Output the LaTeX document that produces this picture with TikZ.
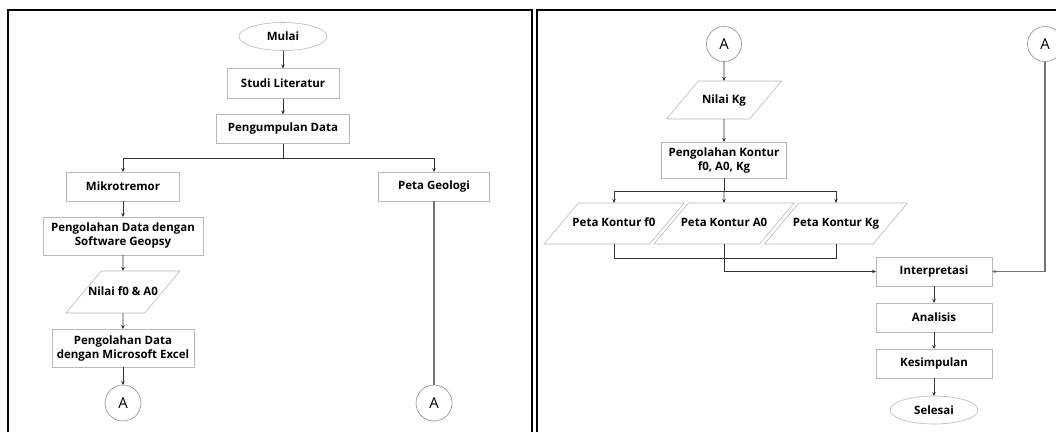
\documentclass[tikz,border=0pt]{standalone}
\usepackage{fontspec}
\setmainfont{Open Sans}
\usetikzlibrary{positioning,shapes.geometric,arrows.meta}

\begin{document}
\begin{tikzpicture}[x=1pt,y=-1pt,>={Stealth[length=4pt,width=3.5pt]},
    every node/.style={inner sep=0pt,outer sep=0pt,align=center,
      font=\bfseries\fontsize{11.5}{14}\selectfont},
    proses/.style={rectangle,draw=black!28,line width=0.6pt},
    data/.style={trapezium,trapezium left angle=50,trapezium right angle=130,
      trapezium stretches body,draw=black!28,line width=0.6pt,inner xsep=-20pt,
      text height=9pt,text depth=2.5pt,inner ysep=14.75pt},
    terminal/.style={ellipse,draw=black!28,line width=0.6pt,minimum width=88pt,minimum height=28pt},
    konektor/.style={circle,draw=black!45,line width=0.6pt,minimum size=35pt,
      font=\fontsize{15}{18}\selectfont},
    alur/.style={->,draw=black!80,line width=0.8pt},
    garis/.style={draw=black!55,line width=1.2pt},
    bingkai/.style={draw=black,line width=1.6pt}]
  \useasboundingbox (0,0) rectangle (1056,432);

  \draw[bingkai] (8,432) -- (8,10) -- (532,10) -- (532,432);
  \draw[bingkai] (537,432) -- (537,10) -- (1056,10);

  % panel kiri
  \node[terminal] (mulai) at (283,36.5) {Mulai};
  \node[proses,minimum width=112pt,minimum height=30pt] (studi) [below=18pt of mulai] {Studi Literatur};
  \node[proses,minimum width=133pt,minimum height=29pt] (kumpul) [below=16pt of studi] {Pengumpulan Data};
  \node[proses,minimum width=113pt,minimum height=29pt] (mikro) at (123,186.5) {Mikrotremor};
  \node[proses,minimum width=111pt,minimum height=29pt] (geologi) at (434,186.5) {Peta Geologi};
  \node[proses,minimum width=160pt,minimum height=38pt] (geopsy) [below=16pt of mikro] {Pengolahan Data dengan\\Software Geopsy};
  \node[data,minimum width=114pt,inner ysep=15.25pt] (nilaiFA) [below=16pt of geopsy] {Nilai f0 \& A0};
  \node[proses,minimum width=142pt,minimum height=38pt] (excel) [below=16pt of nilaiFA] {Pengolahan Data\\dengan Microsoft Excel};
  \node[konektor,minimum size=36pt] (aKiri1) [below=18pt of excel] {A};
  \node[konektor,minimum size=36pt] (aKiri2) at (434,403) {A};

  \path[alur] (mulai) edge (studi)
    (studi) edge (kumpul)
    (mikro) edge (geopsy)
    (geopsy) edge (nilaiFA)
    (nilaiFA) edge (excel)
    (excel) edge (aKiri1);
  \draw[alur,-] (kumpul.south) -- ++(0,15) coordinate (cabangKiri);
  \draw[alur] (cabangKiri) -| (mikro);
  \draw[alur] (cabangKiri) -| (geologi);
  \draw[garis] (geologi) -- (aKiri2);

  % panel kanan
  \node[konektor] (aKanan1) at (724,44) {A};
  \node[konektor] (aKanan2) at (1045,44) {A};
  \node[data,minimum width=115pt,inner ysep=13.25pt] (nilaiKg) [below=19.5pt of aKanan1] {Nilai Kg};
  \node[proses,minimum width=125pt,minimum height=36pt] (kontur) [below=23pt of nilaiKg] {Pengolahan Kontur\\f0, A0, Kg};
  \node[data,minimum width=140pt] (petaA) at (724,223.5) {Peta Kontur A0};
  \node[data,minimum width=140pt] (petaF) at (614,223.5) {Peta Kontur f0};
  \node[data,minimum width=143pt] (petaK) at (836,223.5) {Peta Kontur Kg};
  \node[proses,minimum width=116pt,minimum height=29pt] (interp) at (934,271.5) {Interpretasi};
  \node[proses,minimum width=116pt,minimum height=29pt] (analisis) [below=17pt of interp] {Analisis};
  \node[proses,minimum width=116pt,minimum height=29pt] (simpul) [below=17pt of analisis] {Kesimpulan};
  \node[terminal] (selesai) [below=18pt of simpul] {Selesai};

  \path[alur] (aKanan1) edge (nilaiKg)
    (nilaiKg) edge (kontur)
    (interp) edge (analisis)
    (analisis) edge (simpul)
    (simpul) edge (selesai);
  \draw[alur,-] (kontur.south) -- ++(0,13) coordinate (cabangKanan);
  \draw[alur] (cabangKanan) -| (petaF);
  \draw[alur] (cabangKanan) -- (petaA);
  \draw[alur] (cabangKanan) -| (petaK);
  \draw[alur,-] (petaF.south) -- ++(0,14) -| (petaK.south);
  \draw[alur] (petaA.south) |- (interp.west);
  \draw[garis,->] (aKanan2.south) |- (interp.east);
\end{tikzpicture}
\end{document}
